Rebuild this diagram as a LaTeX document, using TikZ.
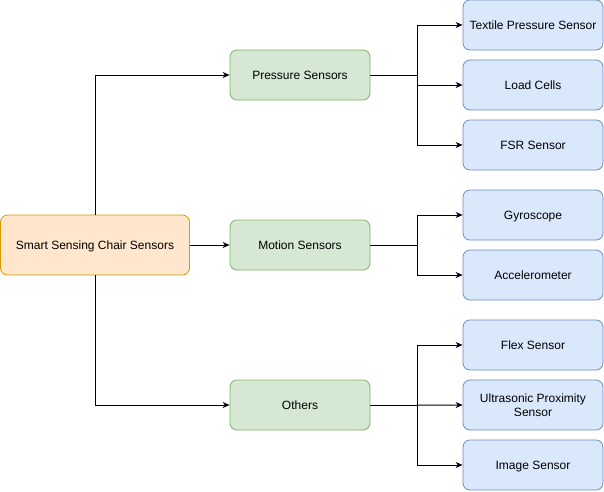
\documentclass[tikz,border=0pt]{standalone}
\usepackage{fontspec}
\setmainfont{Liberation Sans}
\usetikzlibrary{positioning,arrows,calc,arrows.meta}
\definecolor{rootfill}{HTML}{FFE6CC}
\definecolor{rootline}{HTML}{D79B00}
\definecolor{groupfill}{HTML}{D5E8D4}
\definecolor{groupline}{HTML}{82B366}
\definecolor{sensorfill}{HTML}{DAE8FC}
\definecolor{sensorline}{HTML}{6C8EBF}
\tikzset{
	tree/.style={>={Stealth[length=7pt,width=6pt]},x=1pt,y=-1pt,
		line width=1pt,node distance=9.2pt,font=\fontsize{12}{14}\selectfont},
	box/.style={rounded corners=7pt,inner sep=0pt,line width=0.8pt,
		text height=9.4pt,text depth=1.4pt,align=center},
	rootbox/.style={box,draw=rootline,fill=rootfill,
		minimum width=189pt,minimum height=60pt},
	group/.style={box,draw=groupline,fill=groupfill,
		minimum width=140pt,minimum height=50pt},
	sensor/.style={box,draw=sensorline,fill=sensorfill,
		minimum width=140pt,minimum height=50pt}
}

\begin{document}
\begin{tikzpicture}[tree]
	\useasboundingbox (0,0) rectangle (604,491);
	
	\node[rootbox] (chair) at (95,245) {Smart Sensing Chair Sensors};
	\node[group] (press) at (300,75) {Pressure Sensors};
	\node[group] (motion) at (300,245) {Motion Sensors};
	\node[group] (others) at (300,405) {Others};
	
	\node[sensor] (textile) at (533,25) {Textile Pressure Sensor};
	\node[sensor] (load) [below= of textile] {Load Cells};
	\node[sensor] (fsr) [below= of load] {FSR Sensor};
	\node[sensor] (gyro) at (533,215) {Gyroscope};
	\node[sensor] (accel) [below= of gyro] {Accelerometer};
	\node[sensor] (flex) at (533,345) {Flex Sensor};
	\node[sensor,text height={},text depth={}] (ultra) [below= of flex]
		{Ultrasonic Proximity\\Sensor};
	\node[sensor] (image) [below= of ultra] {Image Sensor};
	
	\coordinate (pb) at ($(press.east)+(47,0)$);
	\coordinate (mb) at ($(motion.east)+(47,0)$);
	\coordinate (ob) at ($(others.east)+(47,0)$);
	
	\draw[->] (chair.north) |- (press);
	\draw[->] (chair) -- (motion);
	\draw[->] (chair.south) |- (others);
	
	\draw (press) -- (pb);
	\draw[->] (pb) |- (textile);
	\draw[->] (pb) |- (load);
	\draw[->] (pb) |- (fsr);
	
	\draw (motion) -- (mb);
	\draw[->] (mb) |- (gyro);
	\draw[->] (mb) |- (accel);
	
	\draw (others) -- (ob);
	\draw[->] (ob) |- (flex);
	\draw[->] (ob) -- (ultra);
	\draw[->] (ob) |- (image);
	
\end{tikzpicture}
\end{document}
